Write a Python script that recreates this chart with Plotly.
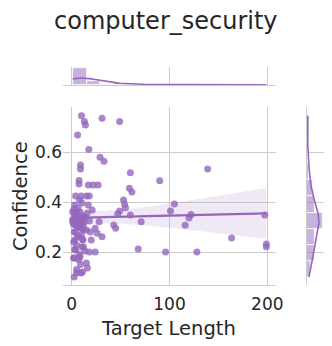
import numpy as np
import plotly.graph_objects as go

# values
target_length = [10, 13, 14, 31, 49, 6, 17.5, 29, 33, 9, 9, 60, 139, 90, 7.5, 7.5,
                 17, 22, 27, 59, 61.5, 4, 9.5, 15, 18, 8, 53, 54, 55, 105, 101, 49,
                 47, 60, 122, 120, 116, 197.5, 71, 43, 45, 28, 24, 26, 31, 163.5,
                 199, 199, 68, 96, 128, 24, 2, 3, 6.5, 8.5, 11.5, 16, 4, 7.5, 12.5,
                 18, 5, 9.5, 15, 19, 2.5, 6.5, 11.5, 5, 10.5, 13.5, 18, 2.5, 15, 16,
                 5, 9.5, 2.5, 21, 3, 8.5, 1, 1, 4, 20, 10.5, 17,
                 3, 6, 10, 12, 4, 8, 2, 14,
                 1, 2, 3, 4, 5, 6, 7, 8, 9, 10, 11, 12, 2, 4, 6, 8, 3, 7, 12, 5, 9, 11]
confidence = [0.745, 0.722, 0.708, 0.735, 0.722, 0.668, 0.61, 0.579, 0.563, 0.548,
              0.532, 0.517, 0.532, 0.485, 0.486, 0.472, 0.468, 0.468, 0.468, 0.455,
              0.44, 0.424, 0.424, 0.424, 0.424, 0.408, 0.408, 0.391, 0.377, 0.392,
              0.364, 0.364, 0.352, 0.348, 0.35, 0.336, 0.307, 0.348, 0.321, 0.308,
              0.295, 0.321, 0.295, 0.275, 0.261, 0.256, 0.232, 0.221, 0.212, 0.2,
              0.2, 0.2, 0.176, 0.388, 0.376, 0.36, 0.344, 0.356, 0.336, 0.328,
              0.32, 0.324, 0.304, 0.296, 0.288, 0.28, 0.28, 0.264, 0.248, 0.228,
              0.22, 0.204, 0.2, 0.176, 0.156, 0.136, 0.116, 0.116, 0.1, 0.368,
              0.248, 0.18, 0.36, 0.32, 0.208, 0.248, 0.396, 0.388,
              0.34, 0.35, 0.33, 0.31, 0.31, 0.30, 0.37, 0.34,
              0.33, 0.31, 0.35, 0.32, 0.36, 0.31, 0.34, 0.33, 0.30, 0.27, 0.25,
              0.29, 0.24, 0.28, 0.26, 0.19, 0.21, 0.17, 0.22, 0.13, 0.15, 0.12]

x_ticks = [0, 100, 200]
y_ticks = [0.2, 0.4, 0.6]
x_bin_count = 14
y_bin_count = 10

PURPLE = "rgb(148,103,189)"
GRID = "#cccccc"
TEXT = "#262626"
W, H = 332, 346

x = np.array(target_length, dtype=float)
y = np.array(confidence, dtype=float)
n = len(x)

# linear fit with 95% confidence band
slope, icpt = np.polyfit(x, y, 1)
xs = np.linspace(x.min(), x.max(), 100)
yhat = icpt + slope * xs
resid = y - (icpt + slope * x)
s = np.sqrt(np.sum(resid ** 2) / (n - 2))
se = s * np.sqrt(1 / n + (xs - x.mean()) ** 2 / np.sum((x - x.mean()) ** 2))
ci = 1.98 * se


def kde(data, grid):
    bw = data.std(ddof=1) * len(data) ** (-0.2)
    z = (grid[:, None] - data[None, :]) / bw
    return np.exp(-0.5 * z ** 2).sum(axis=1) / (len(data) * bw * np.sqrt(2 * np.pi))


x_edges = np.linspace(x.min(), x.max(), x_bin_count + 1)
y_edges = np.linspace(y.min(), y.max(), y_bin_count + 1)
gx = np.linspace(x.min(), x.max(), 200)
gy = np.linspace(y.min(), y.max(), 200)
kde_x = kde(x, gx) * n * (x_edges[1] - x_edges[0])
kde_y = kde(y, gy) * n * (y_edges[1] - y_edges[0])

fig = go.Figure()

# confidence band
fig.add_trace(go.Scatter(x=xs, y=yhat + ci, mode="lines", line=dict(width=0),
                         showlegend=False, hoverinfo="skip"))
fig.add_trace(go.Scatter(x=xs, y=yhat - ci, mode="lines", line=dict(width=0),
                         fill="tonexty", fillcolor="rgba(148,103,189,0.15)",
                         showlegend=False, hoverinfo="skip"))
fig.add_trace(go.Scatter(x=x, y=y, mode="markers",
                         marker=dict(size=7, color=PURPLE, opacity=0.8),
                         showlegend=False))
fig.add_trace(go.Scatter(x=xs, y=yhat, mode="lines",
                         line=dict(color=PURPLE, width=2.2), showlegend=False))

# marginals
fig.add_trace(go.Histogram(x=x, xaxis="x2", yaxis="y2",
                           xbins=dict(start=x_edges[0], end=x_edges[-1] + 1e-9,
                                      size=x_edges[1] - x_edges[0]),
                           marker=dict(color="rgba(148,103,189,0.5)",
                                       line=dict(color="white", width=0.8)),
                           showlegend=False))
fig.add_trace(go.Scatter(x=gx, y=kde_x, xaxis="x2", yaxis="y2", mode="lines",
                         line=dict(color=PURPLE, width=1.6), showlegend=False))
fig.add_trace(go.Histogram(y=y, xaxis="x3", yaxis="y3", orientation="h",
                           ybins=dict(start=y_edges[0], end=y_edges[-1] + 1e-9,
                                      size=y_edges[1] - y_edges[0]),
                           marker=dict(color="rgba(148,103,189,0.5)",
                                       line=dict(color="white", width=0.8)),
                           showlegend=False))
fig.add_trace(go.Scatter(x=kde_y, y=gy, xaxis="x3", yaxis="y3", mode="lines",
                         line=dict(color=PURPLE, width=1.6), showlegend=False))

xdom = [63 / W, 276 / W]
ydom = [(H - 285) / H, (H - 107) / H]
xr = [-8.9, 208.9]
yr = [0.068, 0.78]
tickfont = dict(family="DejaVu Sans", size=17, color=TEXT)

fig.update_layout(
    width=W, height=H,
    margin=dict(l=0, r=0, t=0, b=0),
    paper_bgcolor="white", plot_bgcolor="white",
    bargap=0,
    xaxis=dict(domain=xdom, range=xr, tickvals=x_ticks, showgrid=True,
               gridcolor=GRID, gridwidth=1, showline=True, linecolor=GRID,
               zeroline=False, ticks="outside", ticklen=4, automargin=False,
               tickcolor="rgba(0,0,0,0)", tickfont=tickfont, anchor="y"),
    yaxis=dict(domain=ydom, range=yr, tickvals=y_ticks,
               ticktext=[f"{v:.1f}" for v in y_ticks], showgrid=True,
               gridcolor=GRID, gridwidth=1, showline=False, zeroline=False,
               ticks="", tickfont=tickfont, anchor="x", automargin=False),
    xaxis2=dict(domain=xdom, range=xr, tickvals=x_ticks, showgrid=True,
                gridcolor=GRID, showline=True, linecolor=GRID, zeroline=False,
                showticklabels=False, anchor="y2", automargin=False),
    yaxis2=dict(domain=[(H - 85) / H, (H - 67) / H], rangemode="tozero",
                showgrid=False, zeroline=False, showticklabels=False,
                anchor="x2", automargin=False),
    xaxis3=dict(domain=[306.7 / W, 324 / W], rangemode="tozero",
                showgrid=False, zeroline=False, showticklabels=False,
                anchor="y3", automargin=False),
    yaxis3=dict(domain=ydom, range=yr, tickvals=y_ticks, showgrid=True,
                gridcolor=GRID, showline=True, linecolor=GRID, zeroline=False,
                showticklabels=False, anchor="x3", automargin=False),
    annotations=[
        dict(text="computer_security", x=166 / W, y=(H - 21) / H,
             xref="paper", yref="paper", showarrow=False,
             xanchor="center", yanchor="middle",
             font=dict(family="DejaVu Sans", size=24, color=TEXT)),
        dict(text="Target Length", x=168 / W, y=(H - 328) / H,
             xref="paper", yref="paper", showarrow=False,
             xanchor="center", yanchor="middle",
             font=dict(family="DejaVu Sans", size=19.5, color=TEXT)),
        dict(text="Confidence", x=20 / W, y=(H - 196) / H, textangle=-90,
             xref="paper", yref="paper", showarrow=False,
             xanchor="center", yanchor="middle",
             font=dict(family="DejaVu Sans", size=19.5, color=TEXT)),
    ],
)

fig.write_html(
    "out.html",
    config={"displayModeBar": False},
    post_script="document.body.style.margin='0';document.body.style.overflow='hidden';",
)
